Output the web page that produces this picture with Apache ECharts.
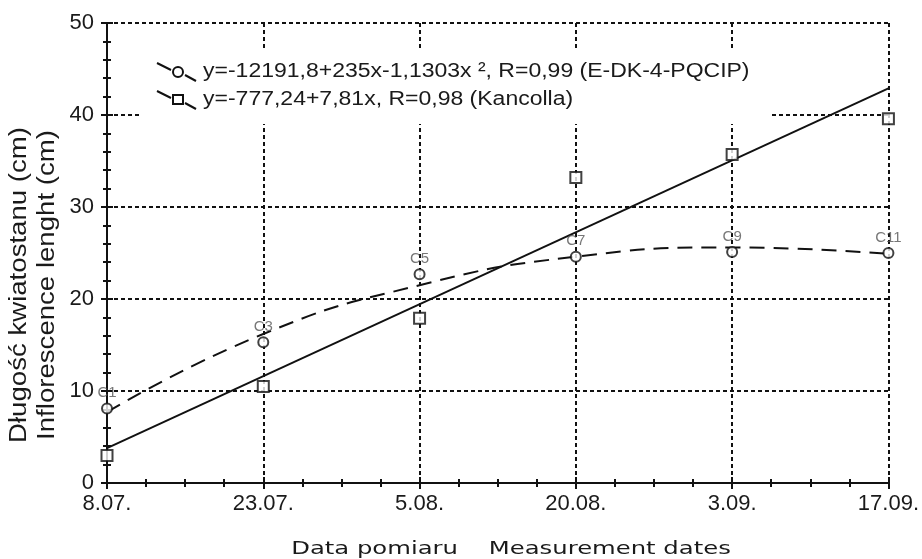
<!DOCTYPE html>
<html>
<head>
<meta charset="utf-8">
<script src="https://cdn.jsdelivr.net/npm/echarts@6/dist/echarts.min.js"></script>
<style>html,body{margin:0;padding:0;background:#fff}#chart{width:922px;height:559px}</style>
</head>
<body>
<div id="chart"></div>
<script>
// dates of measurement (category positions 0..5)
var dates = ['8.07.', '23.07.', '5.08.', '20.08.', '3.09.', '17.09.'];
var pointLabels = ['C1', 'C3', 'C5', 'C7', 'C9', 'C11'];
// E-DK-4-PQCIP (circles) and Kancolla (squares), cm
var circleValues = [8.1, 15.3, 22.7, 24.6, 25.1, 25.0];
var squareValues = [3.0, 10.5, 17.9, 33.2, 35.7, 39.6];
// fitted curves
var curveFit = [7.7, 16.2, 21.5, 24.6, 25.6, 24.9];
var lineFitDates = ['8.07.', '17.09.'];
var lineFit = [3.8, 42.9];
var legendTexts = [
  'y=-12191,8+235x-1,1303x \u00b2, R=0,99 (E-DK-4-PQCIP)',
  'y=-777,24+7,81x, R=0,98 (Kancolla)'
];

function toPairs(names, vals) {
  return vals.map(function (v, i) { return [dates.indexOf(names[i]), v]; });
}

var black = '#111';
var tickStyle = { color: black, width: 2 };
function frameX(pos, labels) {
  return {
    type: 'value', min: 0, max: 5, interval: 1, position: pos,
    axisLine: { show: true, lineStyle: { color: black, width: 2 } },
    axisTick: { show: true, inside: true, length: 6, lineStyle: tickStyle },
    minorTick: { show: true, splitNumber: 4, length: 4, lineStyle: tickStyle },
    axisLabel: labels ? {
      formatter: function (v) { return dates[v]; },
      fontSize: 22, color: '#1a1a1a', margin: 10, fontFamily: 'Liberation Sans'
    } : { show: false },
    splitLine: { show: labels, lineStyle: { color: black, width: 2, type: [4, 3] } }
  };
}
function frameY(pos, labels) {
  return {
    type: 'value', min: 0, max: 50, interval: 10, position: pos,
    axisLine: { show: true, lineStyle: { color: black, width: 2 } },
    axisTick: { show: true, inside: true, length: 6, lineStyle: tickStyle },
    minorTick: { show: true, splitNumber: 5, length: 4, lineStyle: tickStyle },
    axisLabel: labels ? { fontSize: 22, color: '#1a1a1a', margin: 13, fontFamily: 'Liberation Sans' } : { show: false },
    splitLine: { show: labels, lineStyle: { color: black, width: 2, type: [4, 3] } }
  };
}

var chart = echarts.init(document.getElementById('chart'));
var legendFont = '20px "Liberation Sans"';
chart.setOption({
  animation: false,
  backgroundColor: '#fff',
  grid: { left: 107, right: 33, top: 23, bottom: 76 },
  xAxis: [frameX('bottom', true), frameX('top', false)],
  yAxis: [frameY('left', true), frameY('right', false)],
  series: [
    {
      type: 'line', data: toPairs(lineFitDates, lineFit), symbol: 'none',
      lineStyle: { color: black, width: 2 }, z: 3
    },
    {
      type: 'line', data: toPairs(dates, curveFit), symbol: 'none', smooth: true,
      lineStyle: { color: black, width: 2, type: [15, 9] }, z: 3
    },
    {
      type: 'scatter', data: toPairs(dates, circleValues), symbol: 'circle', symbolSize: 10,
      itemStyle: { color: '#fff', borderColor: black, borderWidth: 2 }, z: 4,
      label: {
        show: true, position: 'top', distance: 2,
        formatter: function (p) { return pointLabels[p.dataIndex]; },
        fontFamily: 'Liberation Sans', fontSize: 15, color: '#555'
      }
    },
    {
      type: 'scatter', data: toPairs(dates, squareValues), symbol: 'rect', symbolSize: 11,
      itemStyle: { color: '#fff', borderColor: black, borderWidth: 2 }, z: 4
    }
  ],
  graphic: [
    { type: 'rect', shape: { x: 140, y: 50, width: 630, height: 74 }, style: { fill: '#fff' }, z: 10 },
    // legend row 1
    { type: 'line', shape: { x1: 157, y1: 63, x2: 171, y2: 70 }, style: { stroke: black, lineWidth: 2 }, z: 11 },
    { type: 'circle', shape: { cx: 178, cy: 72, r: 5 }, style: { fill: '#fff', stroke: black, lineWidth: 2 }, z: 11 },
    { type: 'line', shape: { x1: 185, y1: 75, x2: 196, y2: 81 }, style: { stroke: black, lineWidth: 2 }, z: 11 },
    { type: 'text', x: 203, y: 71, scaleX: 1.15, style: { text: legendTexts[0], font: legendFont, fill: '#1a1a1a', textVerticalAlign: 'middle' }, z: 11 },
    // legend row 2
    { type: 'line', shape: { x1: 157, y1: 91, x2: 171, y2: 98 }, style: { stroke: black, lineWidth: 2 }, z: 11 },
    { type: 'rect', shape: { x: 173, y: 95, width: 10, height: 9 }, style: { fill: '#fff', stroke: black, lineWidth: 2 }, z: 11 },
    { type: 'line', shape: { x1: 185, y1: 103, x2: 196, y2: 109 }, style: { stroke: black, lineWidth: 2 }, z: 11 },
    { type: 'text', x: 203, y: 99, scaleX: 1.15, style: { text: legendTexts[1], font: legendFont, fill: '#1a1a1a', textVerticalAlign: 'middle' }, z: 11 },
    // axis names
    { type: 'text', x: 20, y: 285, rotation: Math.PI / 2, scaleX: 1.2,
      style: { text: 'Długość kwiatostanu (cm)', font: '23px "Liberation Sans"', fill: '#1a1a1a', textAlign: 'center', textVerticalAlign: 'middle' } },
    { type: 'text', x: 48, y: 285, rotation: Math.PI / 2, scaleX: 1.2,
      style: { text: 'Inflorescence lenght (cm)', font: '23px "Liberation Sans"', fill: '#1a1a1a', textAlign: 'center', textVerticalAlign: 'middle' } },
    { type: 'text', x: 511, y: 549, scaleX: 1.35,
      style: { text: 'Data pomiaru    Measurement dates', font: '18px "DejaVu Sans"', fill: '#1a1a1a', textAlign: 'center', textVerticalAlign: 'middle' } }
  ]
});
</script>
</body>
</html>
